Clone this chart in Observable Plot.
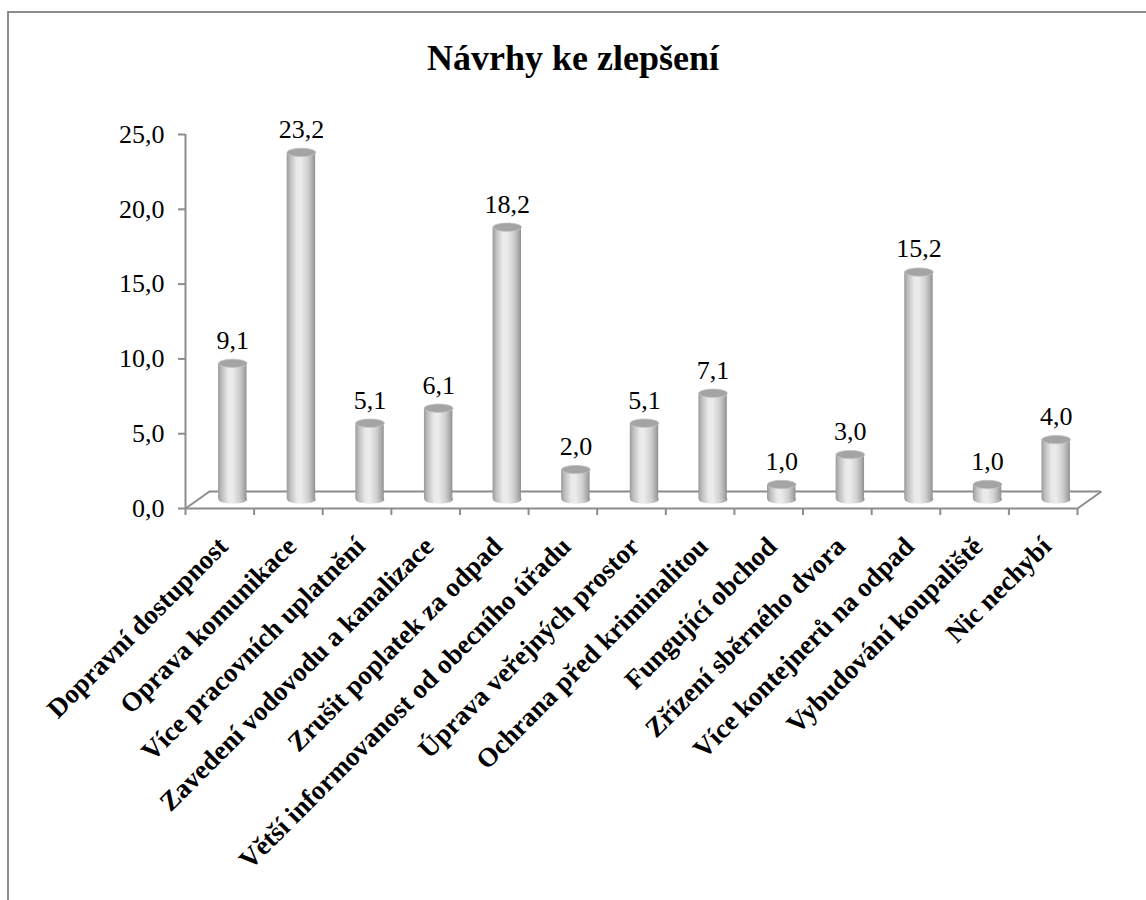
<!DOCTYPE html>
<html>
<head>
<meta charset="utf-8">
<script src="https://cdn.jsdelivr.net/npm/d3@7"></script>
<script src="https://cdn.jsdelivr.net/npm/@observablehq/plot@0.6"></script>
<style>
  html, body { margin: 0; padding: 0; background: #fff; overflow: hidden; }
  #page { position: relative; width: 1146px; height: 900px; overflow: hidden; }
  #frame { position: absolute; left: 7px; top: 11px; width: 1300px; height: 1000px; border: 2px solid #8c8c8c; box-sizing: border-box; }
  #title { position: absolute; left: 0; width: 1146px; top: 36px; text-align: center;
           font-family: "Liberation Serif", "Times New Roman", serif; font-weight: bold; font-size: 36px; line-height: 44px; color: #000; }
  #chart { position: absolute; left: 0; top: 0; }
</style>
</head>
<body>
<div id="page">
  <div id="frame"></div>
  <div id="title">Návrhy ke zlepšení</div>
  <div id="chart"></div>
</div>
<script>
const categories = [
  "Dopravní dostupnost",
  "Oprava komunikace",
  "Více pracovních uplatnění",
  "Zavedení vodovodu a kanalizace",
  "Zrušit poplatek za odpad",
  "Větší informovanost od obecního úřadu",
  "Úprava veřejných prostor",
  "Ochrana před kriminalitou",
  "Fungující obchod",
  "Zřízení sběrného dvora",
  "Více kontejnerů na odpad",
  "Vybudování koupaliště",
  "Nic nechybí"
];
const values = [9.1, 23.2, 5.1, 6.1, 18.2, 2.0, 5.1, 7.1, 1.0, 3.0, 15.2, 1.0, 4.0];
const yTicks = [0, 5, 10, 15, 20, 25];

const data = categories.map((c, i) => ({ name: c, i, value: values[i] }));
const edges = d3.range(categories.length + 1);
const fmt = v => v.toFixed(1).replace(".", ",");

// 3D depth (pixels)
const DX = 24, DY = -17;      // floor depth
const BX = 13, BY = -9;       // bar (mid-depth) offset
const RX = 14.3, RY = 4.2;    // cylinder ellipse radii

const ellipseSymbol = {
  draw(ctx) {
    const k = 0.5523;
    ctx.moveTo(-RX, 0);
    ctx.bezierCurveTo(-RX, -RY * k, -RX * k, -RY, 0, -RY);
    ctx.bezierCurveTo(RX * k, -RY, RX, -RY * k, RX, 0);
    ctx.bezierCurveTo(RX, RY * k, RX * k, RY, 0, RY);
    ctx.bezierCurveTo(-RX * k, RY, -RX, RY * k, -RX, 0);
    ctx.closePath();
  }
};
const diagSymbol = {
  draw(ctx) { ctx.moveTo(0, 0); ctx.lineTo(DX, DY); }
};

const gray = "#8c8c8c";

const chart = Plot.plot({
  width: 1146,
  height: 900,
  marginLeft: 185,
  marginRight: 69,
  marginTop: 134,
  marginBottom: 392,
  style: { fontFamily: "Liberation Serif, Times New Roman, serif", fontSize: "26px", background: "transparent", color: "#000", overflow: "visible" },
  x: { type: "linear", domain: [0, categories.length] },
  y: { type: "linear", domain: [0, 25] },
  marks: [
    // floor
    Plot.ruleY([0], { dx: DX, dy: DY, stroke: gray, strokeWidth: 2 }),
    Plot.dot([0, categories.length], { x: d => d, y: 0, symbol: diagSymbol, r: 5, fill: "none", stroke: gray, strokeWidth: 2 }),
    Plot.ruleY([0], { stroke: gray, strokeWidth: 2 }),
    // y axis
    Plot.ruleX([0], { y1: 0, y2: 25, stroke: gray, strokeWidth: 2 }),
    Plot.axisY({ ticks: yTicks, tickFormat: fmt, tickSize: 7, tickPadding: 14, stroke: gray, strokeWidth: 2, fill: "#000", fontSize: 26, strokeOpacity: 1, label: null }),
    // x ticks at category boundaries (no labels)
    Plot.axisX({ ticks: edges, tickFormat: () => "", tickSize: 7, stroke: gray, strokeWidth: 2, strokeOpacity: 1, label: null }),
    // cylinders
    Plot.dot(data, { x: d => d.i + 0.5, y: 0, symbol: ellipseSymbol, r: 5, fill: "url(#cyl)", stroke: "none", dx: BX, dy: BY }),
    Plot.rectY(data, { x1: d => d.i, x2: d => d.i + 1, y1: 0, y2: "value", insetLeft: 20.1, insetRight: 20.1, dx: BX, dy: BY, fill: "url(#cyl)" }),
    Plot.dot(data, { x: d => d.i + 0.5, y: "value", symbol: ellipseSymbol, r: 5, fill: "#a4a4a4", stroke: "#c4c4c4", strokeWidth: 0.8, dx: BX, dy: BY }),
    // value labels
    Plot.text(data, { x: d => d.i + 0.5, y: "value", text: d => fmt(d.value), dx: BX, dy: BY - 23, fontSize: 26, fill: "#000" }),
    // category labels
    Plot.text(data, { x: d => d.i + 0.5, y: 0, text: "name", rotate: -45, textAnchor: "end", lineAnchor: "top", dx: -4, dy: 26, fontSize: 27, fontWeight: "bold", fill: "#000" })
  ]
});

// gradient definition for cylinder bodies
const defs = d3.select(chart).insert("defs", ":first-child");
const g = defs.append("linearGradient").attr("id", "cyl").attr("x1", "0%").attr("x2", "100%").attr("y1", "0%").attr("y2", "0%");
[[0, "#9a9a9a"], [0.12, "#bdbdbd"], [0.35, "#e9e9e9"], [0.5, "#ececec"], [0.75, "#cfcfcf"], [0.92, "#a8a8a8"], [1, "#8e8e8e"]]
  .forEach(([o, c]) => g.append("stop").attr("offset", o).attr("stop-color", c));

document.getElementById("chart").appendChild(chart);
</script>
</body>
</html>
